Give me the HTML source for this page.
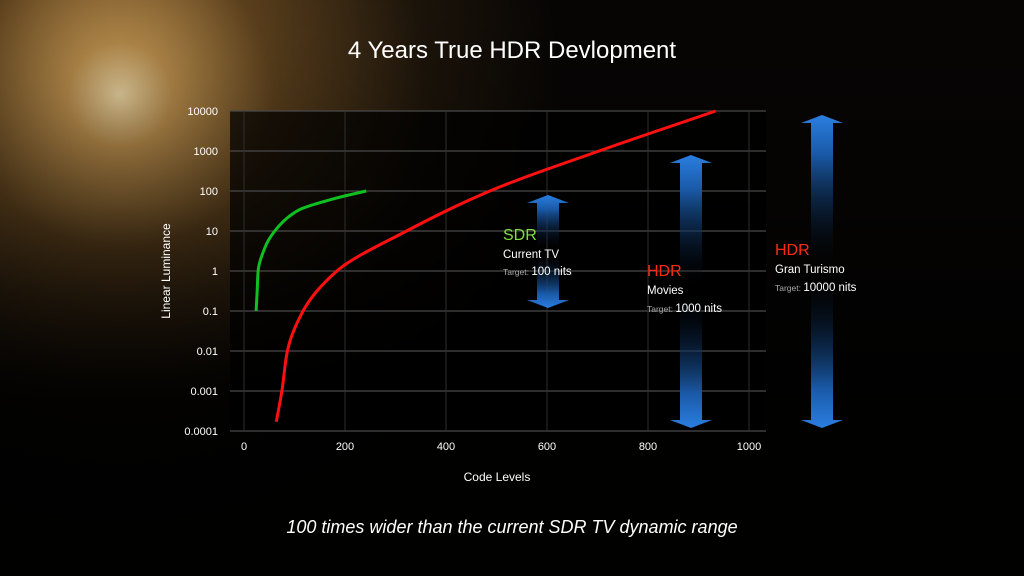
<!DOCTYPE html>
<html><head><meta charset="utf-8"><style>
body{margin:0;width:1024px;height:576px;overflow:hidden;background:#000;font-family:"Liberation Sans",sans-serif}
svg{display:block}
</style></head><body>
<svg id="chart" width="1024" height="576">
<defs id="defs">
<radialGradient id="sun" cx="120" cy="95" r="440" gradientUnits="userSpaceOnUse">
<stop offset="0" stop-color="#e8d2a0"/><stop offset="0.12" stop-color="#b58a4a"/><stop offset="0.35" stop-color="#5a3f1c"/><stop offset="0.7" stop-color="#1c140a"/><stop offset="1" stop-color="#070504"/>
</radialGradient>
<linearGradient id="fade" x1="0" y1="0" x2="0" y2="1"><stop offset="0" stop-color="#000" stop-opacity="0"/><stop offset="0.35" stop-color="#000" stop-opacity="0.3"/><stop offset="0.7" stop-color="#000" stop-opacity="0.9"/></linearGradient>
</defs>
<rect width="1024" height="576" fill="url(#sun)"/>
<rect width="1024" height="576" fill="url(#fade)"/>
<rect x="230" y="111" width="536" height="320" fill="#000" opacity="0.72"/>
<g id="grid"></g><g id="arrows"></g><g id="curves"></g><g id="labels"></g>
<text x="512" y="58" text-anchor="middle" fill="#fff" font-size="24">4 Years True HDR Devlopment</text>
<text x="170" y="271" transform="rotate(-90 170 271)" text-anchor="middle" fill="#fff" font-size="12">Linear Luminance</text>
<text x="497" y="481" text-anchor="middle" fill="#fff" font-size="12">Code Levels</text>
<text x="512" y="533" text-anchor="middle" fill="#fff" font-size="18" font-style="italic">100 times wider than the current SDR TV dynamic range</text>
<g>
<text x="503" y="240" fill="#7ee040" font-size="16">SDR</text>
<text x="503" y="258" fill="#fff" font-size="11.5">Current TV</text>
<text x="503" y="275" fill="#aaa" font-size="8.5">Target: <tspan fill="#fff" font-size="11.5">100 nits</tspan></text></g>
<g>
<text x="647" y="276" fill="#ff2a10" font-size="16">HDR</text>
<text x="647" y="294" fill="#fff" font-size="11.5">Movies</text>
<text x="647" y="312" fill="#aaa" font-size="8.5">Target: <tspan fill="#fff" font-size="11.5">1000 nits</tspan></text></g>
<g>
<text x="775" y="255" fill="#ff2a10" font-size="16">HDR</text>
<text x="775" y="273" fill="#fff" font-size="11.5">Gran Turismo</text>
<text x="775" y="291" fill="#aaa" font-size="8.5">Target: <tspan fill="#fff" font-size="11.5">10000 nits</tspan></text></g>
</svg>
<script>
const xTicks=[0,200,400,600,800,1000];
const yTicks=[10000,1000,100,10,1,0.1,0.01,0.001,0.0001];
const yTickLabels=["10000","1000","100","10","1","0.1","0.01","0.001","0.0001"];
const hdrCodes=[64,75,86,117,184,322,487,703,934];
const hdrLum=[0.00017,0.001,0.01,0.1,1,10,100,1000,10000];
const sdrCodes=[24,26,28,42,61,105,180,242];
const sdrLum=[0.1,0.3,1,4,10,31.6,65,100];
const arrowTop=[100,1000,10000];
const arrowBottom=[0.1,0.0001,0.0001];
const NS="http://www.w3.org/2000/svg";
const X=v=>244+v*0.505;
const Y=v=>431-(Math.log10(v)+4)*40;
function mk(t,a,p){const e=document.createElementNS(NS,t);for(const k in a)e.setAttribute(k,a[k]);p.appendChild(e);return e;}
const grid=document.getElementById('grid'),lab=document.getElementById('labels'),defs=document.getElementById('defs');
yTicks.forEach((v,i)=>{
const l=mk('line',{x1:230,x2:766,y1:Y(v),y2:Y(v),stroke:'#4a4a4a','stroke-width':1.3},grid);


const t=mk('text',{x:218,y:Y(v)+4,'text-anchor':'end',fill:'#fff','font-size':11},lab);t.textContent=yTickLabels[i];


});
xTicks.forEach(v=>{
const l=mk('line',{x1:X(v),x2:X(v),y1:111,y2:431,stroke:'#2e2e2e','stroke-width':1},grid);


const t=mk('text',{x:X(v),y:450,'text-anchor':'middle',fill:'#fff','font-size':11},lab);t.textContent=v;


});
function path(cs,ls){
const ys=ls.map(Y).reverse(),xs=cs.map(X).reverse();const n=ys.length;
const d=[],m=[];for(let i=0;i<n-1;i++)d.push((xs[i+1]-xs[i])/(ys[i+1]-ys[i]));
m[0]=d[0];m[n-1]=d[n-2];for(let i=1;i<n-1;i++)m[i]=(d[i-1]*d[i]<=0)?0:(2/(1/d[i-1]+1/d[i]));
let s='';
for(let i=0;i<n-1;i++){const h=ys[i+1]-ys[i];
for(let k=0;k<=20;k++){const t=k/20,t2=t*t,t3=t2*t;
const x=(2*t3-3*t2+1)*xs[i]+(t3-2*t2+t)*h*m[i]+(-2*t3+3*t2)*xs[i+1]+(t3-t2)*h*m[i+1];
const y=ys[i]+t*h;s+=(s?'L':'M')+x.toFixed(2)+','+y.toFixed(2);}}
return s;}
const cv=document.getElementById('curves');
const r=mk('path',{d:path(hdrCodes,hdrLum),stroke:'#ff1010','stroke-width':3,fill:'none','stroke-linejoin':'round'},cv);


const g=mk('path',{d:path(sdrCodes,sdrLum),stroke:'#10c020','stroke-width':3,fill:'none','stroke-linejoin':'round'},cv);


const ar=document.getElementById('arrows');
const arrowCenters=[548,691,822];
function grad(id,y1,y2){
const lg=mk('linearGradient',{id:id,gradientUnits:'userSpaceOnUse',x1:0,x2:0,y1:y1,y2:y2},defs);
mk('stop',{offset:0,'stop-color':'#2a7ee0'},lg);
mk('stop',{offset:0.25,'stop-color':'#1a5aa8'},lg);
mk('stop',{offset:1,'stop-color':'#000','stop-opacity':0},lg);}
arrowTop.forEach((v,i)=>{
const t=Y(v)+4,b=Y(arrowBottom[i])-3,xx=arrowCenters[i],mid=(t+b)/2;
const fl=(b-t)*0.5;
grad('ga'+i,t,t+fl);grad('gb'+i,b,b-fl);
const up=`M${xx},${t} L${xx+21},${t+8} L${xx+11},${t+8} L${xx+11},${mid} L${xx-11},${mid} L${xx-11},${t+8} L${xx-21},${t+8} Z`;
const dn=`M${xx},${b} L${xx+21},${b-8} L${xx+11},${b-8} L${xx+11},${mid} L${xx-11},${mid} L${xx-11},${b-8} L${xx-21},${b-8} Z`;
const a=mk('path',{d:up,fill:'url(#ga'+i+')'},ar);


const c=mk('path',{d:dn,fill:'url(#gb'+i+')'},ar);


});
</script>
</body></html>
